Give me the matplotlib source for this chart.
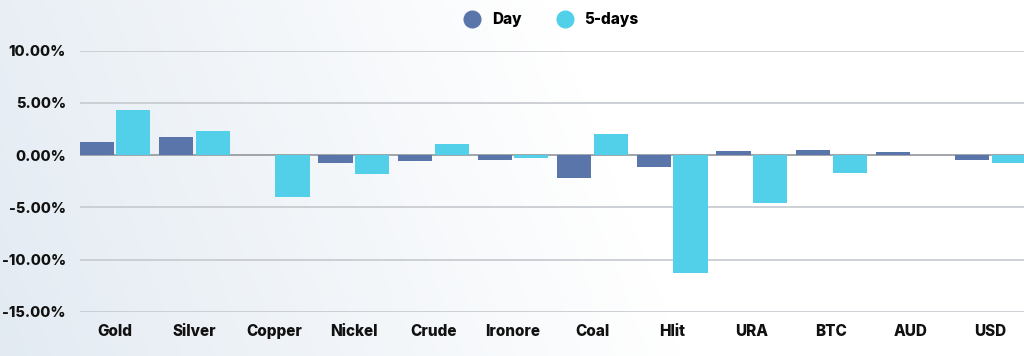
import matplotlib.pyplot as plt
import numpy as np
from matplotlib.lines import Line2D

categories = ["Gold", "Silver", "Copper", "Nickel", "Crude", "Ironore",
              "Coal", "Hlit", "URA", "BTC", "AUD", "USD"]
day = [1.24, 1.78, 0.0, -0.77, -0.57, -0.48, -2.2, -1.1, 0.36, 0.46, 0.35, -0.5]
five_days = [4.30, 2.29, -4.02, -1.82, 1.08, -0.29, 2.06, -11.3, -4.6, -1.68, 0.0, -0.77]
yticks = [-15, -10, -5, 0, 5, 10]

day_color = "#5a75aa"
five_color = "#52d0ea"
font = ["Inter", "DejaVu Sans"]

fig = plt.figure(figsize=(10.24, 3.56), dpi=100)

# background gradient (bluish grey on the left fading to white)
bg = fig.add_axes([0, 0, 1, 1], zorder=-10)
gx = np.linspace(0, 1, 256)
gy = np.linspace(0, 1, 64)
X, Y = np.meshgrid(gx, gy)
shade = np.clip(1 - (X * 1.5 + (1 - Y) * 0.2), 0, 1)
c0 = np.array([0.89, 0.92, 0.95])
c1 = np.array([1.0, 1.0, 1.0])
img = c1 + (c0 - c1) * shade[..., None]
bg.imshow(img, aspect="auto", extent=[0, 1, 0, 1], origin="upper")
bg.axis("off")

ax = fig.add_axes([0.078, 0.1236, 0.922, 0.734])
ax.patch.set_alpha(0)

x = np.arange(len(categories))
w = 0.43
off = 0.23
ax.bar(x - off, day, w, color=day_color, zorder=3)
ax.bar(x + off, five_days, w, color=five_color, zorder=3)

ax.set_ylim(-15, 10)
ax.set_xlim(-0.44, 11.42)
ax.set_yticks(yticks)
ax.set_yticklabels([f"{v:.2f}%" for v in yticks])
ax.set_xticks(x)
ax.set_xticklabels(categories)
for lbl in ax.get_xticklabels() + ax.get_yticklabels():
    lbl.set_fontfamily(font)
    lbl.set_fontweight("heavy")
    lbl.set_fontsize(11)
    lbl.set_color("#111111")
for lbl in ax.get_yticklabels():
    lbl.set_fontsize(10.5)
ax.tick_params(axis="both", length=0)
ax.tick_params(axis="x", pad=9)
ax.tick_params(axis="y", pad=10)

for v in yticks:
    ax.axhline(v, color="#c9cdd2" if v != 0 else "#9a9ea3", lw=1.3, zorder=1)
for s in ax.spines.values():
    s.set_visible(False)

handles = [Line2D([], [], marker="o", ls="", markersize=12, color=day_color),
           Line2D([], [], marker="o", ls="", markersize=12, color=five_color)]
fig.legend(handles, ["Day", "5-days"], loc="center", bbox_to_anchor=(0.535, 0.945),
           ncol=2, frameon=False, handletextpad=0.3, columnspacing=1.8,
           prop={"family": font, "weight": "heavy", "size": 11})

fig.savefig("out.png", dpi=100)
